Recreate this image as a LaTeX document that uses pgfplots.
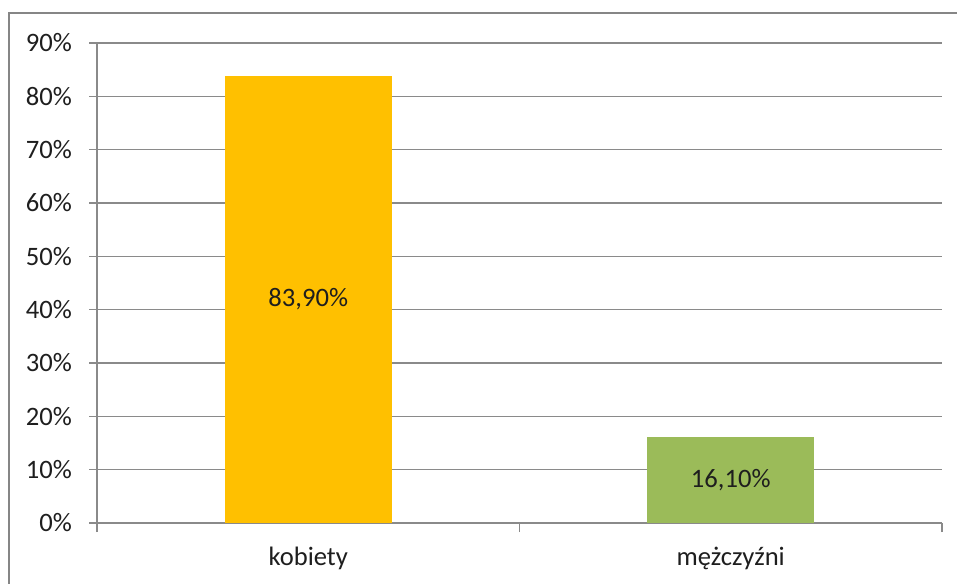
\documentclass[border=0pt]{standalone}
\usepackage{pgfplots}
\pgfplotsset{compat=1.18}
\usepackage{fontspec}
\setmainfont{Carlito}
\definecolor{kob}{HTML}{FFC000}
\definecolor{mez}{HTML}{9BBB59}
\definecolor{gridg}{HTML}{8A8A8A}
\definecolor{frameg}{HTML}{868686}
\definecolor{txt}{HTML}{1E1E1E}
\begin{document}
\begin{tikzpicture}[x=1bp,y=1bp]
\useasboundingbox (0,0) rectangle (478.5,291.5);
\draw[frameg, line width=1.2bp] (4.5,-5) -- (4.5,285) -- (485,285);
\begin{axis}[
  at={(48.5bp,30bp)}, anchor=south west,
  scale only axis, width=422.5bp, height=240bp,
  xmin=-0.5, xmax=1.5, ymin=0, ymax=90,
  axis x line*=bottom, axis y line*=left,
  axis line style={draw=gridg, line width=0.7bp},
  xtick={0,1}, xticklabels={kobiety, mężczyźni},
  minor xtick={-0.5,0.5,1.5},
  x tick style={draw=none},
  minor x tick style={draw=gridg, line width=0.7bp},
  minor tick length=4.5bp,
  ytick={0,10,...,90},
  yticklabels={0\%,10\%,20\%,30\%,40\%,50\%,60\%,70\%,80\%,90\%},
  y tick style={draw=gridg, line width=0.7bp},
  major tick length=4bp,
  tick align=outside,
  ymajorgrids, major grid style={draw=gridg, line width=0.7bp},
  tick label style={font=\fontsize{13.3bp}{16bp}\selectfont, text=txt},
  yticklabel style={xshift=-5bp},
  xticklabel style={yshift=-4.5bp},
  /pgf/number format/assume math mode=true,
  clip=false,
]
\addplot[ybar, bar shift=0, bar width=0.396, fill=kob, draw=none] coordinates {(0,83.9)};
\addplot[ybar, bar shift=0, bar width=0.396, fill=mez, draw=none] coordinates {(1,16.1)};
\addplot[draw=none, mark=none, nodes near coords, point meta=explicit symbolic,
  every node near coord/.append style={anchor=center, font=\fontsize{13.3bp}{16bp}\selectfont, text=txt}]
  coordinates {(0,41.95) [83,90\%] (1,8.05) [16,10\%]};
\end{axis}
\end{tikzpicture}
\end{document}
